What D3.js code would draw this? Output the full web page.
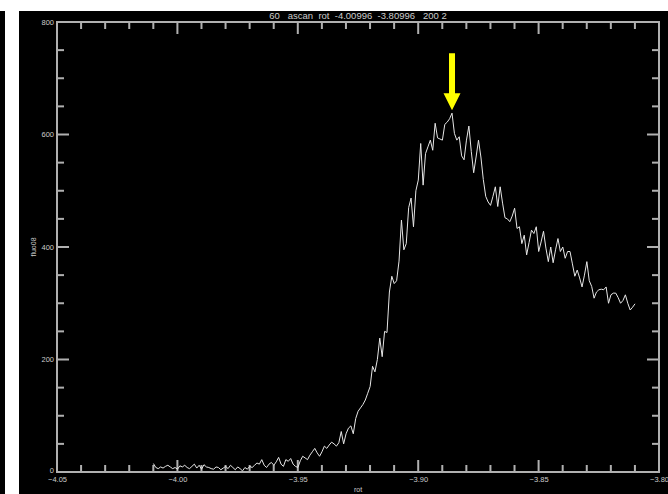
<!DOCTYPE html>
<html>
<head>
<meta charset="utf-8">
<script src="https://cdn.jsdelivr.net/npm/d3@7"></script>
<style>
  html, body { margin: 0; padding: 0; background: #fff; }
  svg { display: block; }
  text { font-family: "Liberation Sans", sans-serif; }
</style>
</head>
<body>
<script>
// scan parameters (from the title line)
const scanStart = -4.00996;
const scanEnd = -3.80996;
const nSteps = 200;

// fluo08 counts, one per scan point (201 points)
const fluo08 = [
  15, 8, 6, 9, 7, 10, 12, 9, 6, 8,
  5, 11, 9, 12, 8, 6, 10, 14, 7, 12,
  5, 13, 9, 8, 6, 5, 9, 8, 4, 7,
  10, 6, 12, 8, 4, 9, 6, 2, 8, 5,
  10, 8, 12, 16, 14, 22, 12, 8, 14, 17,
  12, 18, 26, 14, 10, 22, 19, 24, 14, 10,
  8, 20, 28, 25, 22, 30, 36, 42, 34, 28,
  36, 46, 42, 48, 53, 50, 46, 52, 72, 50,
  68, 78, 82, 68, 95, 108, 114, 120, 128, 140,
  152, 188, 178, 200, 238, 205, 250, 248, 320, 348,
  335, 340, 375, 448, 395, 406, 470, 487, 436, 500,
  519, 584, 510, 566, 578, 590, 572, 620, 594, 592,
  590, 618, 622, 628, 638, 602, 590, 596, 562, 555,
  590, 615, 570, 532, 560, 590, 560, 520, 490, 480,
  474, 490, 507, 472, 507, 478, 452, 450, 445, 455,
  469, 433, 436, 406, 421, 386, 408, 430, 424, 436,
  392, 409, 428, 398, 374, 400, 372, 395, 415, 392,
  400, 380, 392, 392, 370, 348, 359, 345, 329, 350,
  374, 340, 330, 309, 320, 324, 325, 324, 329, 300,
  315, 318, 318, 310, 300, 305, 315, 300, 288, 293,
  299
];

const xTicks = [-4.05, -4.00, -3.95, -3.90, -3.85, -3.80];
const yTicks = [0, 200, 400, 600, 800];
const titleText = "60   ascan  rot  -4.00996  -3.80996   200 2";
const xLabel = "rot";
const yLabel = "fluo08";

const W = 668, H = 494;
const mLeft = 57, mRight = 659, mTop = 22, mBottom = 472;
const axisColor = '#b0b0b0';

const rot = d3.range(nSteps + 1).map(i => scanStart + (scanEnd - scanStart) * i / nSteps);
const data = rot.map((r, i) => ({ rot: r, v: fluo08[i] }));

const svg = d3.select('body').append('svg')
  .attr('width', W)
  .attr('height', H);

// page background: black panel with a white strip on the left
svg.append('rect').attr('x', 0).attr('y', 11).attr('width', W).attr('height', H - 11).attr('fill', '#000');
svg.append('rect').attr('x', 5).attr('y', 11).attr('width', 14).attr('height', H - 11).attr('fill', '#fff');

const x = d3.scaleLinear().domain([-4.05, -3.80]).range([mLeft, mRight]);
const y = d3.scaleLinear().domain([0, 800]).range([mBottom, mTop]);

const fmtX = d => d3.format('.2f')(d).replace('-', '\u2212');
const minorX = d3.range(-4.05, -3.7999, 0.01).map(d => +d.toFixed(2));
const minorY = d3.range(0, 801, 50);
const isMajorX = d => xTicks.some(t => Math.abs(t - d) < 1e-6);
const isMajorY = d => yTicks.includes(d);

// frame
svg.append('rect')
  .attr('x', mLeft).attr('y', mTop)
  .attr('width', mRight - mLeft).attr('height', mBottom - mTop)
  .attr('fill', 'none')
  .attr('stroke', axisColor)
  .attr('stroke-width', 2);

// tick marks on all four sides, pointing inward
const ticks = svg.append('g').attr('stroke', axisColor).attr('stroke-width', 2);
ticks.selectAll('.tb').data(minorX).join('line').attr('class', 'tb')
  .attr('x1', d => x(d)).attr('x2', d => x(d))
  .attr('y1', mBottom).attr('y2', d => mBottom - (isMajorX(d) ? 12 : 7));
ticks.selectAll('.tt').data(minorX).join('line').attr('class', 'tt')
  .attr('x1', d => x(d)).attr('x2', d => x(d))
  .attr('y1', mTop).attr('y2', d => mTop + (isMajorX(d) ? 12 : 7));
ticks.selectAll('.tl').data(minorY).join('line').attr('class', 'tl')
  .attr('y1', d => y(d)).attr('y2', d => y(d))
  .attr('x1', mLeft).attr('x2', d => mLeft + (isMajorY(d) ? 12 : 7));
ticks.selectAll('.tr').data(minorY).join('line').attr('class', 'tr')
  .attr('y1', d => y(d)).attr('y2', d => y(d))
  .attr('x1', mRight).attr('x2', d => mRight - (isMajorY(d) ? 12 : 7));

// tick labels from d3 axes (domain and tick lines hidden)
function labelAxis(g) {
  g.select('.domain').remove();
  g.selectAll('.tick line').remove();
  g.selectAll('text').attr('fill', '#ccc').attr('font-size', 7.5);
}
svg.append('g').attr('transform', `translate(0,${mBottom})`)
  .call(d3.axisBottom(x).tickValues(xTicks).tickSize(0).tickPadding(5).tickFormat(fmtX))
  .call(labelAxis);
svg.append('g').attr('transform', `translate(${mLeft},0)`)
  .call(d3.axisLeft(y).tickValues(yTicks).tickSize(0).tickPadding(3).tickFormat(d3.format('d')))
  .call(labelAxis)
  .selectAll('.tick text')
  .filter(d => d === 0)
  .attr('dy', '0.1em');

// data line
const line = d3.line()
  .x(d => x(d.rot))
  .y(d => y(d.v));

svg.append('path')
  .datum(data)
  .attr('fill', 'none')
  .attr('stroke', '#e6e6e6')
  .attr('stroke-width', 1)
  .attr('d', line);

// title and axis titles
svg.append('text')
  .attr('x', (mLeft + mRight) / 2)
  .attr('y', 19)
  .attr('text-anchor', 'middle')
  .attr('font-size', 9.5)
  .attr('fill', '#ccc')
  .attr('xml:space', 'preserve')
  .style('white-space', 'pre')
  .text(titleText);

svg.append('text')
  .attr('x', (mLeft + mRight) / 2)
  .attr('y', 492)
  .attr('text-anchor', 'middle')
  .attr('font-size', 7)
  .attr('fill', '#ccc')
  .text(xLabel);

svg.append('text')
  .attr('transform', `translate(36,${(mTop + mBottom) / 2}) rotate(-90)`)
  .attr('text-anchor', 'middle')
  .attr('font-size', 7)
  .attr('fill', '#ccc')
  .text(yLabel);

// yellow arrow pointing at the maximum
const peak = data[d3.maxIndex(data, d => d.v)];
const px = x(peak.rot), py = y(peak.v);
const arrow = d3.path();
arrow.moveTo(px - 3, py - 60);
arrow.lineTo(px + 3, py - 60);
arrow.lineTo(px + 3, py - 20);
arrow.lineTo(px + 8.5, py - 20);
arrow.lineTo(px, py - 3);
arrow.lineTo(px - 8.5, py - 20);
arrow.lineTo(px - 3, py - 20);
arrow.closePath();
svg.append('path')
  .attr('d', arrow.toString())
  .attr('fill', '#ffff00');
</script>
</body>
</html>
